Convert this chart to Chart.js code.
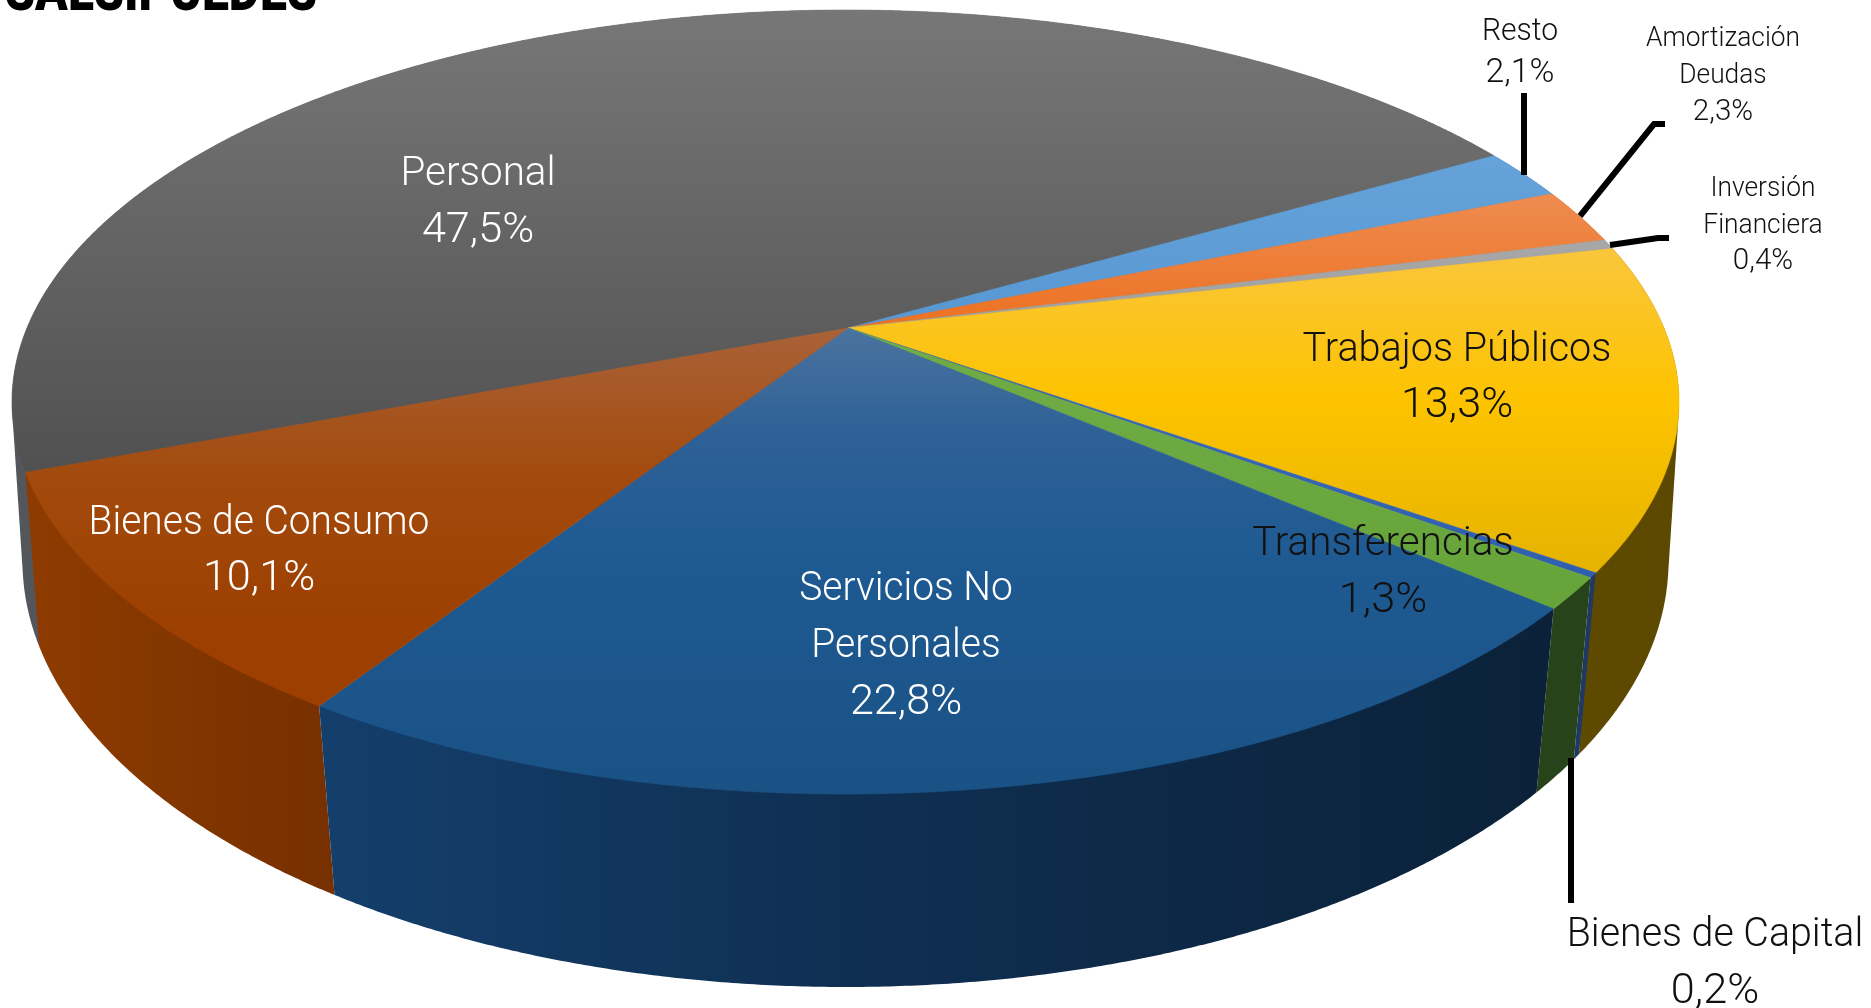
<!DOCTYPE html>
<html>
<head>
<meta charset="utf-8">
<title>Salsipuedes</title>
<script src="https://cdn.jsdelivr.net/npm/chart.js@4"></script>
<style>
  html, body { margin: 0; padding: 0; background: #fff; overflow: hidden; }
  canvas { display: block; }
</style>
</head>
<body>
<canvas id="pie_chart" width="1871" height="1008"></canvas>
<script>
// data, in pie order, clockwise starting from Personal
const labels = ['Personal', 'Resto', 'Amortización Deudas', 'Inversión Financiera', 'Trabajos Públicos', 'Bienes de Capital', 'Transferencias', 'Servicios No Personales', 'Bienes de Consumo']
const values = [47.5, 2.1, 2.3, 0.4, 13.3, 0.2, 1.3, 22.8, 10.1]

// top face: [y, colour] stops, side wall: [x, colour] stops
const top_colors = [
    [[10, '#777777'], [480, '#505050']],
    [[150, '#66a3da'], [330, '#5797d2']],
    [[180, '#ee8f55'], [330, '#ed7020']],
    [[230, '#a8a8a8'], [330, '#a0a0a0']],
    [[240, '#f9c640'], [400, '#fdc300'], [575, '#e4b300']],
    [[330, '#3f6cb5'], [575, '#2f5fae']],
    [[330, '#70ad47'], [610, '#66a338']],
    [[328, '#4a739f'], [440, '#2d6096'], [560, '#1e5a92'], [790, '#1a5285']],
    [[328, '#aa6238'], [480, '#a24a0c'], [640, '#9c3f00']]
]
const side_colors = [
    [[0, '#53565a'], [1871, '#53565a']],
    [[0, '#3a6f9f'], [1871, '#3a6f9f']],
    [[0, '#b05a20'], [1871, '#b05a20']],
    [[0, '#777777'], [1871, '#777777']],
    [[1570, '#5f4a00'], [1680, '#5c4800']],
    [[1500, '#1f3864'], [1600, '#1f3864']],
    [[1500, '#27431a'], [1600, '#27431a']],
    [[320, '#143f6c'], [850, '#0f2f52'], [1550, '#0b2139']],
    [[40, '#8d3b00'], [330, '#773000']]
]

// pie projection, the circle seen in perspective; top rim and bottom rim have their own ellipse
const top_rim = { cx: 845.5, cy: 402, a: 833.5, b: 392, k: -0.189 }
const bottom_rim = { cx: 845.5, cy: 561, a: 823, b: 426, k: -0.168 }
const apex_x = 848, apex_y = 328

function project(rim, angle) {
    let c = Math.cos(angle), s = Math.sin(angle)
    let d = 1 + rim.k * s
    return [rim.cx + rim.a * c * Math.sqrt(1 - rim.k * rim.k) / d, rim.cy + rim.b * (s + rim.k) / d]
}
function arc_points(rim, a0, a1) {
    let pts = []
    let n = Math.max(2, Math.ceil((a1 - a0) * 180))
    for (let i = 0; i <= n; i++) pts.push(project(rim, a0 + (a1 - a0) * i / n))
    return pts
}
// the wall outline is the hull of both rims, this gives the straight silhouette at the far left and right
function hull(points) {
    let pts = points.slice().sort((p, q) => p[0] - q[0] || p[1] - q[1])
    let cross = (o, a, b) => (a[0] - o[0]) * (b[1] - o[1]) - (a[1] - o[1]) * (b[0] - o[0])
    let half = list => {
        let out = []
        list.forEach(p => {
            while (out.length > 1 && cross(out[out.length - 2], out[out.length - 1], p) <= 0) out.pop()
            out.push(p)
        })
        out.pop()
        return out
    }
    return half(pts).concat(half(pts.slice().reverse()))
}
function gradient(ctx, stops, vertical) {
    let a = stops[0][0], b = stops[stops.length - 1][0]
    let g = vertical ? ctx.createLinearGradient(0, a, 0, b) : ctx.createLinearGradient(a, 0, b, 0)
    stops.forEach(s => g.addColorStop((s[0] - a) / (b - a), s[1]))
    return g
}
function trace(ctx, pts) {
    ctx.beginPath()
    pts.forEach((p, i) => i ? ctx.lineTo(p[0], p[1]) : ctx.moveTo(p[0], p[1]))
    ctx.closePath()
}

// label text placement: lines of text, centre x, first baseline, line step, size, colour
const label_lines = [
    ['Personal'], ['Resto'], ['Amortización', 'Deudas'], ['Inversión', 'Financiera'], ['Trabajos Públicos'],
    ['Bienes de Capital'], ['Transferencias'], ['Servicios No', 'Personales'], ['Bienes de Consumo']
]
const label_x = [478, 1520, 1723, 1763, 1457, 1715, 1383, 906, 259]
const label_y = [185, 40, 46, 196, 361, 946, 555, 600, 534]
const label_step = [57, 42, 37, 36.5, 56, 57, 57, 57, 56]
const label_size = [41, 32, 28, 28, 41, 41, 41, 41, 41]
const label_color = ['#fff', '#111', '#111', '#111', '#111', '#111', '#111', '#fff', '#fff']
const name_squeeze = [0.985, 0.94, 0.94, 0.94, 0.966, 0.96, 0.984, 0.95, 0.95]
const percent_grow = 1.055

// leader lines, in page pixels
const leaders = [
    [[1524, 93], [1524, 175]],
    [[1580, 216], [1654, 124], [1665, 124]],
    [[1610, 245], [1658, 238], [1669, 238]],
    [[1571, 758], [1571, 903]]
]

let pie3d = {
    id: 'pie3d',
    beforeDatasetDraw(chart, args) {
        let ctx = chart.ctx
        let arcs = args.meta.data
        ctx.save()

        // side walls, far slices first
        let order = arcs.map((a, i) => i).sort((p, q) =>
            Math.sin((arcs[p].startAngle + arcs[p].endAngle) / 2) - Math.sin((arcs[q].startAngle + arcs[q].endAngle) / 2))
        order.forEach(i => {
            let upper = arc_points(top_rim, arcs[i].startAngle, arcs[i].endAngle)
            let lower = arc_points(bottom_rim, arcs[i].startAngle, arcs[i].endAngle)
            trace(ctx, hull(upper.concat(lower)))
            ctx.fillStyle = gradient(ctx, side_colors[i], false)
            ctx.fill()
        })

        // top face
        arcs.forEach((a, i) => {
            let pts = [[apex_x, apex_y]].concat(arc_points(top_rim, a.startAngle, a.endAngle))
            let fill = gradient(ctx, top_colors[i], true)
            trace(ctx, pts)
            ctx.fillStyle = fill
            ctx.fill()
            ctx.strokeStyle = fill
            ctx.lineWidth = 0.6
            ctx.stroke()
        })

        // leader lines
        ctx.strokeStyle = '#000'
        ctx.lineWidth = 6
        ctx.lineJoin = 'miter'
        leaders.forEach(l => {
            ctx.beginPath()
            l.forEach((p, i) => i ? ctx.lineTo(p[0], p[1]) : ctx.moveTo(p[0], p[1]))
            ctx.stroke()
        })

        // title, cut by the top of the page as in the original
        ctx.fillStyle = '#000'
        ctx.textAlign = 'left'
        ctx.font = '900 60px Roboto'
        ctx.fillText('SALSIPUEDES', 5, 10, 312)

        // labels
        ctx.textAlign = 'center'
        ctx.textBaseline = 'alphabetic'
        labels.forEach((name, i) => {
            ctx.font = '300 ' + label_size[i] + 'px Roboto'
            ctx.fillStyle = label_color[i]
            let y = label_y[i]
            label_lines[i].forEach(line => {
                ctx.fillText(line, label_x[i], y, ctx.measureText(line).width * name_squeeze[i])
                y += label_step[i]
            })
            ctx.font = '300 ' + label_size[i] * percent_grow + 'px Roboto'
            ctx.fillText(values[i].toFixed(1).replace('.', ',') + '%', label_x[i], y)
        })

        ctx.restore()
        return false
    }
}

let pie_ctx = document.querySelector('#pie_chart').getContext('2d')

let pie_chart = new Chart(pie_ctx, {
    type: 'pie',
    data: {
        labels: labels,
        datasets: [{
            data: values,
            backgroundColor: top_colors.map(c => c[0][1]),
            borderWidth: 0
        }]
    },
    options: {
        responsive: false,
        animation: false,
        rotation: 249.1,
        plugins: {
            legend: { display: false },
            tooltip: { enabled: false }
        }
    },
    plugins: [pie3d]
})
</script>
</body>
</html>
